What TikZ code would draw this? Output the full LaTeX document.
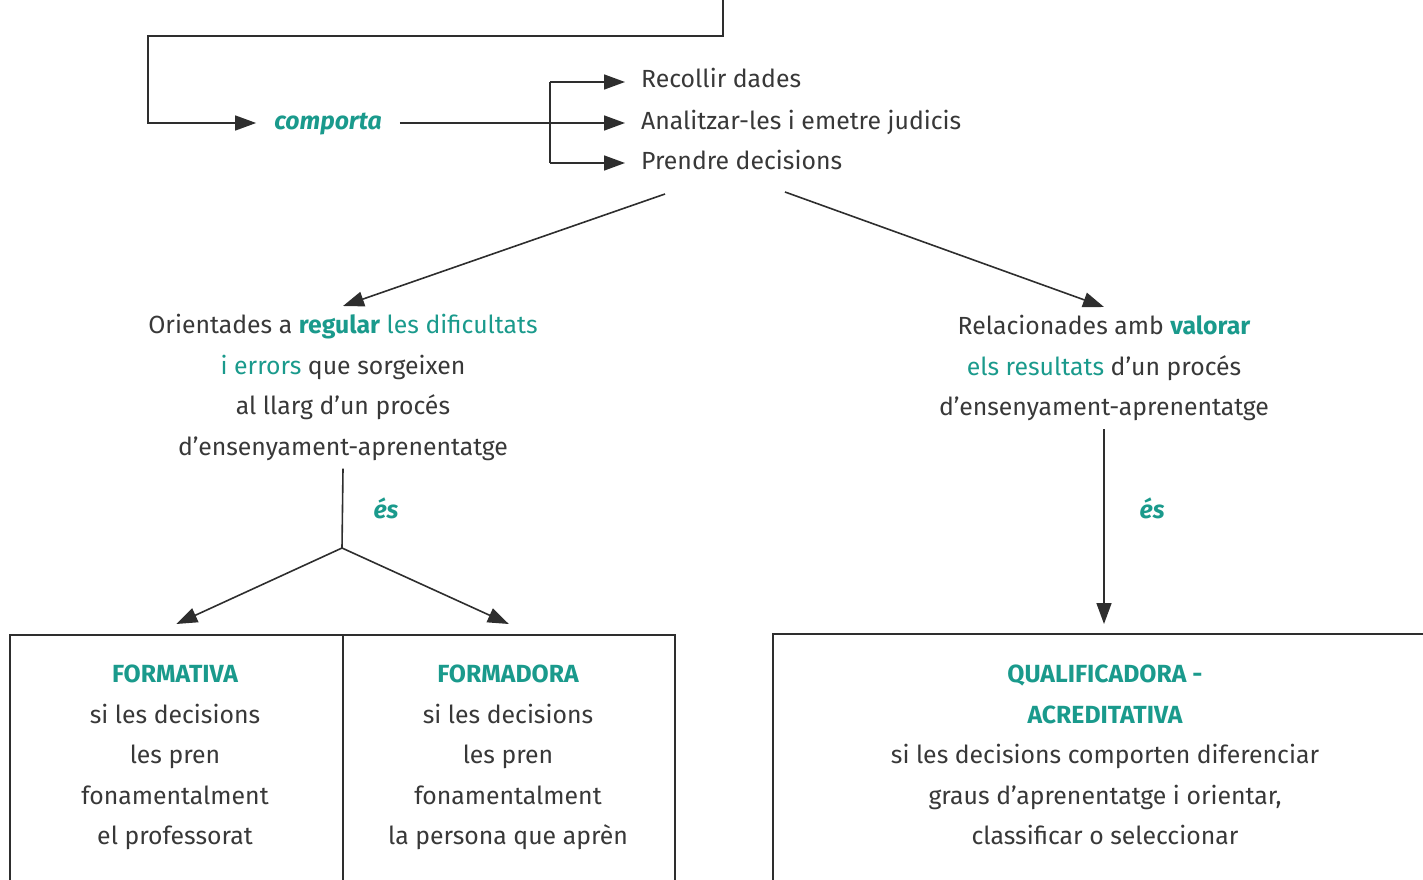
\documentclass[tikz,border=0pt]{standalone}
\usepackage{fontspec}
\setmainfont{Fira Sans}
\usetikzlibrary{arrows.meta}
\definecolor{verd}{HTML}{1A9A8C}
\definecolor{fosc}{HTML}{383838}
\definecolor{traç}{HTML}{2E2E2E}
\newcommand{\verd}[1]{\textcolor{verd}{#1}}
\newcommand{\fortverd}[1]{\textcolor{verd}{\bfseries #1}}

\begin{document}
\begin{tikzpicture}[x=1pt,y=-1pt,
  every node/.style={text=fosc,font=\fontsize{24.8}{40.5}\selectfont},
  linia/.style={draw=traç,line width=1.6pt},
  fletxa/.style={linia,-{Triangle[length=21pt,width=15pt]}},
  curt/.style={text height=18pt,text depth=6pt},
  caixa/.style={draw=traç,line width=1.6pt,minimum height=300pt,inner sep=0pt,anchor=north west},
  verdnode/.style={text=verd,font=\fontsize{24.8}{40.5}\selectfont\bfseries\itshape}]
  \useasboundingbox (0,0) rectangle (1423,880);
  \clip (0,0) rectangle (1423,880);

  \coordinate (Dalt) at (723,-5);
  \coordinate (Cantonada) at (148,36);

  \node[verdnode,curt,inner xsep=18pt] (Comporta) at (328,123) {comporta};

  \node[curt,anchor=west,inner xsep=16pt] (Recollir) at (625,82) {Recollir dades};
  \node[curt,anchor=west,inner xsep=16pt] (Analitzar) at (625,123) {Analitzar-les i emetre judicis};
  \node[curt,anchor=west,inner xsep=16pt] (Prendre) at (625,163) {Prendre decisions};

  \coordinate (BrancaDalt) at (550,82);
  \coordinate (BrancaBaix) at (550,163);

  \draw[fletxa] (Dalt) |- (Cantonada) |- (Comporta.west);
  \draw[fletxa] (Comporta.east) -- (Analitzar.west);
  \draw[linia] (BrancaDalt) -- (BrancaBaix);
  \draw[fletxa] (BrancaDalt) -- (Recollir.west);
  \draw[fletxa] (BrancaBaix) -- (Prendre.west);

  % dues branques
  \coordinate (SurtEsq) at (665,194);
  \coordinate (SurtDre) at (785,192);

  \node[align=center,anchor=north,inner sep=8pt] (Orientades) at (343,306)
    {Orientades a \fortverd{regular} \verd{les dificultats}\\
     \verd{i errors} que sorgeixen\\
     al llarg d’un procés\\
     d’ensenyament-aprenentatge};
  \node[align=center,anchor=north,inner sep=8pt] (Relacionades) at (1104,307)
    {Relacionades amb \fortverd{valorar}\\
     \verd{els resultats} d’un procés\\
     d’ensenyament-aprenentatge};

  \draw[fletxa] (SurtEsq) -- (Orientades.north);
  \draw[fletxa] (SurtDre) -- (Relacionades.north);

  \node[verdnode] (EsEsq) at (386,508) {és};
  \node[verdnode] (EsDre) at (1152,508) {és};

  % caixes
  \node[caixa,minimum width=333pt] (Formativa) at (9,634) {};
  \node[caixa,minimum width=332pt] (Formadora) at (342,634) {};
  \node[caixa,minimum width=666pt] (Qualificadora) at (772,633) {};

  \coordinate (Nus) at (342,548);
  \draw[linia] (Orientades.south) -- (Nus);
  \draw[fletxa] (Nus) -- ([yshift=10pt]Formativa.north);
  \draw[fletxa] (Nus) -- ([yshift=10pt]Formadora.north);
  \draw[fletxa] (Relacionades.south) -- ([yshift=9pt]Relacionades.south |- Qualificadora.north);

  \node[align=center,anchor=north,inner sep=0pt] (TextFormativa) at (175,665)
    {\fortverd{FORMATIVA}\\
     si les decisions\\
     les pren\\
     fonamentalment\\
     el professorat};
  \node[align=center,anchor=north,inner sep=0pt] (TextFormadora) at (508,665)
    {\fortverd{FORMADORA}\\
     si les decisions\\
     les pren\\
     fonamentalment\\
     la persona que aprèn};
  \node[align=center,anchor=north,inner sep=0pt] (TextQualificadora) at (1105,665)
    {\fortverd{QUALIFICADORA -}\\
     \fortverd{ACREDITATIVA}\\
     si les decisions comporten diferenciar\\
     graus d’aprenentatge i orientar,\\
     classificar o seleccionar};
\end{tikzpicture}
\end{document}
